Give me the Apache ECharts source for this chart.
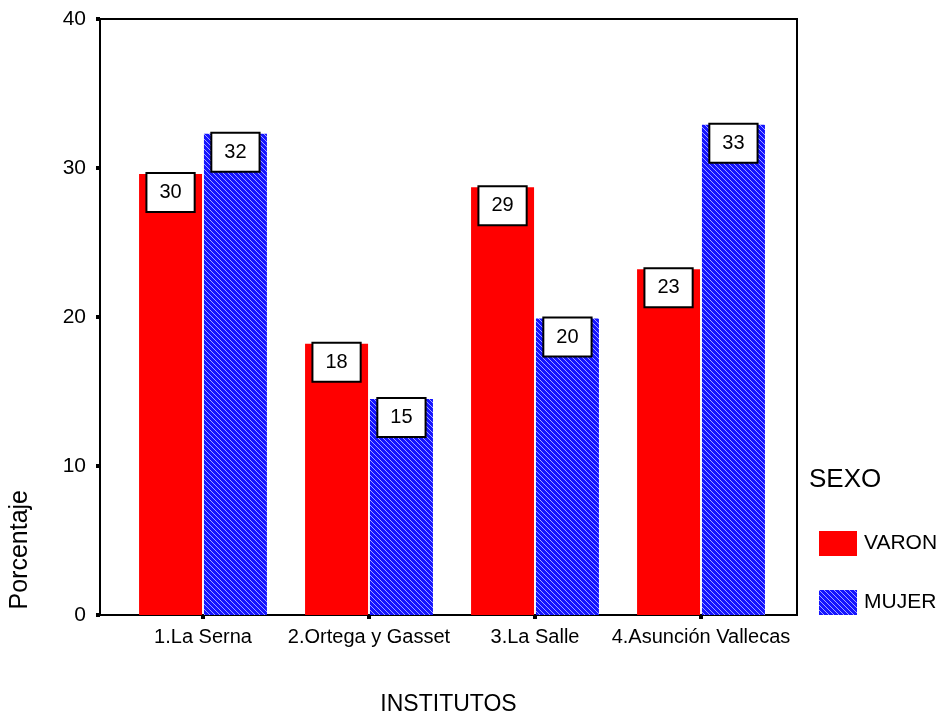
<!DOCTYPE html>
<html>
<head>
<meta charset="utf-8">
<script src="https://cdn.jsdelivr.net/npm/echarts@6/dist/echarts.min.js"></script>
<style>
  html, body { margin: 0; padding: 0; background: #fff; }
  #chart { width: 941px; height: 715px; }
</style>
</head>
<body>
<div id="chart"></div>
<script>
// Institutes on the category axis
const institutos = ['1.La Serna', '2.Ortega y Gasset', '3.La Salle', '4.Asunción Vallecas'];
// Percentage per institute, by sex
const varon = [29.6, 18.2, 28.7, 23.2];
const mujer = [32.3, 14.5, 19.9, 32.9];
// Y axis ticks
const yMin = 0, yMax = 40, yStep = 10;

const FONT = '"Liberation Sans", Arial, sans-serif';

// Diagonal hatch fill for the MUJER bars
function hatch() {
  const s = 5;
  const c = document.createElement('canvas');
  c.width = s; c.height = s;
  const g = c.getContext('2d');
  g.fillStyle = '#1414ff';
  g.fillRect(0, 0, s, s);
  g.strokeStyle = 'rgba(170,170,255,0.95)';
  g.lineWidth = 1;
  g.beginPath();
  g.moveTo(-1, -1); g.lineTo(s + 1, s + 1);
  g.moveTo(-1, s - 1); g.lineTo(1, s + 1);
  g.moveTo(s - 1, -1); g.lineTo(s + 1, 1);
  g.stroke();
  return { image: c, repeat: 'repeat' };
}

const labelBox = {
  show: true,
  position: 'insideTop',
  distance: 0,
  formatter: p => String(Math.round(p.value)),
  color: '#000',
  fontFamily: FONT,
  fontSize: 20,
  lineHeight: 21,
  backgroundColor: '#fff',
  borderColor: '#000',
  borderWidth: 2,
  padding: [8, 12, 8, 12]
};

const chart = echarts.init(document.getElementById('chart'), null, { renderer: 'canvas' });
chart.setOption({
  animation: false,
  backgroundColor: '#fff',
  textStyle: { fontFamily: FONT },
  grid: [
    { left: 100, top: 19, width: 697, height: 596, outerBoundsMode: 'none', containLabel: false,
      show: true, borderColor: '#000', borderWidth: 2, backgroundColor: 'transparent' },
    { left: 120, top: 19, width: 664, height: 596, outerBoundsMode: 'none', containLabel: false }
  ],
  xAxis: [
    {
      gridIndex: 0, type: 'category', data: institutos,
      axisLine: { show: false }, axisTick: { show: false }, axisLabel: { show: false },
      name: 'INSTITUTOS', nameLocation: 'middle', nameGap: 78,
      nameTextStyle: { fontFamily: FONT, fontSize: 23, color: '#000' }
    },
    {
      gridIndex: 1, type: 'category', data: institutos,
      axisLine: { show: false },
      axisTick: { show: true, alignWithLabel: true, length: 4, lineStyle: { color: '#000', width: 4 } },
      axisLabel: { color: '#000', fontFamily: FONT, fontSize: 20, margin: 12, interval: 0 }
    }
  ],
  yAxis: [
    {
      gridIndex: 0, type: 'value', min: yMin, max: yMax, interval: yStep,
      axisLine: { show: true, lineStyle: { color: '#000', width: 2 } },
      axisTick: { show: true, length: 4, lineStyle: { color: '#000', width: 4 } },
      axisLabel: { color: '#000', fontFamily: FONT, fontSize: 21, margin: 14 },
      splitLine: { show: false }
    },
    {
      gridIndex: 1, type: 'value', min: yMin, max: yMax, interval: yStep,
      show: false, splitLine: { show: false }
    }
  ],
  legend: {
    orient: 'vertical', left: 814, top: 526,
    itemWidth: 38, itemHeight: 25, itemGap: 34,
    icon: 'rect',
    textStyle: { fontFamily: FONT, fontSize: 21, color: '#000', padding: [6, 0, 0, 2] },
    data: ['VARON', 'MUJER']
  },
  title: {
    text: 'SEXO', left: 804, top: 462,
    textStyle: { fontFamily: FONT, fontSize: 26, fontWeight: 'normal', color: '#000' }
  },
  graphic: [
    {
      type: 'text', left: 8, top: 490,
      rotation: Math.PI / 2,
      style: { text: 'Porcentaje', font: '25px ' + FONT, fill: '#000' }
    }
  ],
  series: [
    {
      name: 'VARON', type: 'bar', xAxisIndex: 1, yAxisIndex: 1,
      data: varon, barWidth: 63, barGap: '3%',
      itemStyle: { color: '#ff0000' },
      label: labelBox
    },
    {
      name: 'MUJER', type: 'bar', xAxisIndex: 1, yAxisIndex: 1,
      data: mujer, barWidth: 63, barGap: '3%',
      itemStyle: { color: hatch() },
      label: labelBox
    }
  ]
});
</script>
</body>
</html>
